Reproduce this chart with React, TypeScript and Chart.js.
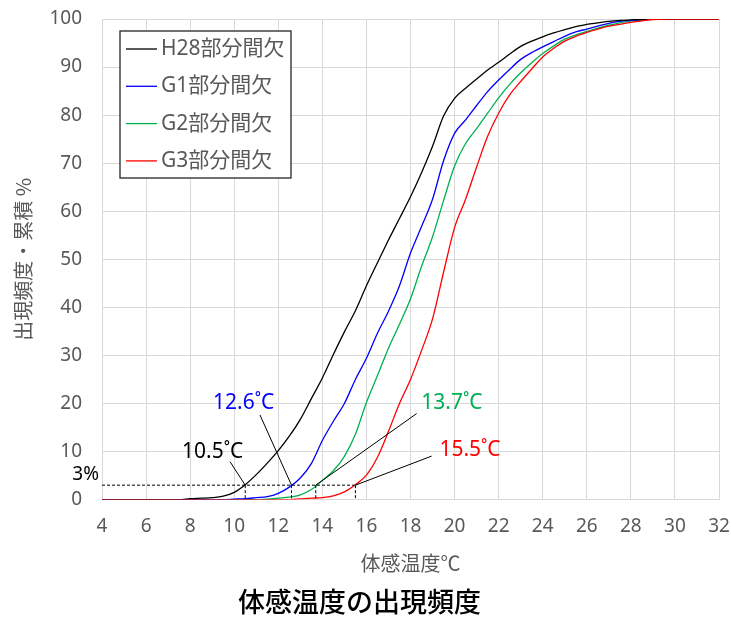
import React, { useEffect, useRef } from 'react';
import { Chart, registerables } from 'chart.js';

Chart.register(...registerables);

// ---- data -------------------------------------------------------------
const temps = [
  4, 4.5, 5, 5.5, 6, 6.5, 7, 7.5, 8, 8.5, 9, 9.5, 10, 10.5, 11, 11.5, 12, 12.5,
  13, 13.5, 14, 14.5, 15, 15.5, 16, 16.5, 17, 17.5, 18, 18.5, 19, 19.5, 20, 20.5,
  21, 21.5, 22, 22.5, 23, 23.5, 24, 24.5, 25, 25.5, 26, 26.5, 27, 27.5, 28, 28.5,
  29, 29.5, 30, 30.5, 31, 31.5, 32,
];

const h28 = [
  0, 0, 0, 0, 0, 0, 0, 0,
  0.2, 0.3, 0.4, 0.7, 1.5, 3.1, 5.2, 7.6, 10.2, 13.2, 16.7, 21, 25.3, 30.2, 34.9, 39.3,
  44.5, 49.3, 54, 58.5, 63, 68, 73.5, 79.8, 83.5, 85.6, 87.5, 89.4, 91, 92.7, 94.3, 95.4,
  96.3, 97.1, 97.8, 98.4, 98.9, 99.2, 99.5, 99.7, 99.8, 99.9,
  100, 100, 100, 100, 100, 100, 100,
];

const g1 = [
  0, 0, 0, 0, 0, 0, 0, 0, 0, 0, 0, 0,
  0.1, 0.2, 0.4, 0.6, 1.3, 2.6, 4.5, 7.5, 12.3, 16.3, 20.0, 25.0, 29.4, 34.6, 39.2, 44.5,
  51.3, 56.8, 62.5, 70.5, 76.2, 79, 82, 84.9, 87.3, 89.5, 91.6, 93, 94.2, 95.3, 96.4, 97.3,
  97.9, 98.5, 99.1, 99.5, 99.7, 99.9,
  100, 100, 100, 100, 100, 100, 100,
];

const g2 = [
  0, 0, 0, 0, 0, 0, 0, 0, 0, 0, 0, 0, 0, 0, 0,
  0.1, 0.3, 0.5, 1.0, 2.1, 4.0, 6.0, 9.0, 13.6, 20.2, 25.8, 31.5, 36.5, 41.8, 48.5, 54.7,
  62.2, 69.4, 74.1, 77.2, 80.4, 83.6, 86.4, 88.8, 90.9, 92.8, 94.4, 95.8, 96.7, 97.4, 98.1,
  98.7, 99.2, 99.6, 99.8,
  100, 100, 100, 100, 100, 100, 100,
];

const g3 = [
  0, 0, 0, 0, 0, 0, 0, 0, 0, 0, 0, 0, 0, 0, 0, 0, 0, 0,
  0.15, 0.3, 0.4, 0.8, 1.6, 3.1, 5.1, 8.8, 14.2, 20.0, 25.0, 31.0, 37.6, 47.3, 56.6, 62.5,
  69.2, 75.6, 80.4, 84.2, 87.0, 89.6, 92.1, 93.9, 95.4, 96.4, 97.2, 97.9, 98.5, 98.9, 99.3,
  99.6, 99.9,
  100, 100, 100, 100, 100, 100,
];

const seriesNames = ['H28部分間欠', 'G1部分間欠', 'G2部分間欠', 'G3部分間欠'];
const seriesValues = [h28, g1, g2, g3];

const xMin = 4;
const xMax = 32;
const xStep = 2;
const yMin = 0;
const yMax = 100;
const yStep = 10;

const thresholdPct = 3;
const thresholdLabel = '3%';
const thresholdTemps = [10.5, 12.6, 13.7, 15.5];
const thresholdTexts = ['10.5˚C', '12.6˚C', '13.7˚C', '15.5˚C'];

const chartTitle = '体感温度の出現頻度';
const xTitle = '体感温度℃';
const yTitle = '出現頻度・累積 %';

// ---- styles / placement (kept apart from data) -------------------------
const seriesColors = ['#000000', '#0000ff', '#00b050', '#ff0000'];
const labelColors = ['#000000', '#0000ff', '#00b050', '#ff0000'];
// label centres and leader-line ends, in data units
const labelAnchors = [
  { x: 9.02, y: 10.0 },
  { x: 10.43, y: 20.1 },
  { x: 19.88, y: 20.1 },
  { x: 20.7, y: 10.3 },
];
const leaderEnds = [
  { x: 9.81, y: 7.9 },
  { x: 11.17, y: 17.6 },
  { x: 18.28, y: 17.9 },
  { x: 18.96, y: 9.05 },
];

const GRAY = '#595959';
const GRID = '#d9d9d9';
const LATIN = '"Noto Sans", "Noto Sans CJK JP", sans-serif';
const CJK = '"Noto Sans CJK JP", "Noto Sans", sans-serif';

const thresholdPlugin = {
  id: 'thresholdMarks',
  afterDatasetsDraw(chart: any) {
    const { ctx, scales } = chart;
    const xs = scales.x;
    const ys = scales.y;
    const yT = ys.getPixelForValue(thresholdPct);
    const y0 = ys.getPixelForValue(0);
    ctx.save();
    ctx.strokeStyle = '#000000';
    ctx.lineWidth = 1;
    ctx.setLineDash([3, 2]);
    ctx.beginPath();
    ctx.moveTo(xs.getPixelForValue(xMin), yT);
    ctx.lineTo(xs.getPixelForValue(Math.max(...thresholdTemps)), yT);
    thresholdTemps.forEach((t) => {
      const px = xs.getPixelForValue(t);
      ctx.moveTo(px, yT);
      ctx.lineTo(px, y0);
    });
    ctx.stroke();
    ctx.setLineDash([]);

    ctx.beginPath();
    thresholdTemps.forEach((t, i) => {
      ctx.moveTo(xs.getPixelForValue(t), yT);
      ctx.lineTo(xs.getPixelForValue(leaderEnds[i].x), ys.getPixelForValue(leaderEnds[i].y));
    });
    ctx.stroke();

    ctx.font = `21px ${LATIN}`;
    ctx.textAlign = 'center';
    ctx.textBaseline = 'middle';
    thresholdTexts.forEach((txt, i) => {
      ctx.fillStyle = labelColors[i];
      ctx.fillText(txt, xs.getPixelForValue(labelAnchors[i].x), ys.getPixelForValue(labelAnchors[i].y));
    });

    ctx.fillStyle = '#000000';
    ctx.font = `19px ${LATIN}`;
    ctx.textAlign = 'right';
    ctx.fillText(thresholdLabel, chart.chartArea.left - 3, ys.getPixelForValue(5.2));
    ctx.restore();
  },
};

const boxLegendPlugin = {
  id: 'boxLegend',
  afterDraw(chart: any) {
    const { ctx, chartArea } = chart;
    const left = chartArea.left + 18;
    const top = chartArea.top + 12;
    const w = 171;
    const h = 147;
    ctx.save();
    ctx.fillStyle = '#ffffff';
    ctx.fillRect(left, top, w, h);
    ctx.strokeStyle = '#262626';
    ctx.lineWidth = 1.3;
    ctx.strokeRect(left, top, w, h);
    ctx.font = `21px ${LATIN}`;
    ctx.textBaseline = 'middle';
    ctx.textAlign = 'left';
    seriesNames.forEach((name, i) => {
      const cy = top + 18 + i * 37.3;
      ctx.strokeStyle = seriesColors[i];
      ctx.lineWidth = 1.3;
      ctx.beginPath();
      ctx.moveTo(left + 6, cy);
      ctx.lineTo(left + 37, cy);
      ctx.stroke();
      ctx.fillStyle = GRAY;
      ctx.fillText(name, left + 41, cy);
    });
    ctx.restore();
  },
};

export default function App() {
  const canvasRef = useRef<HTMLCanvasElement | null>(null);

  useEffect(() => {
    if (!canvasRef.current) return;
    const datasets = seriesNames.map((name, i) => ({
      label: name,
      data: temps.map((t, j) => ({ x: t, y: seriesValues[i][j] })),
      borderColor: seriesColors[i],
      backgroundColor: seriesColors[i],
      borderWidth: 1.3,
      pointRadius: 0,
      fill: false,
      cubicInterpolationMode: 'monotone' as const,
      order: i === 3 ? -1 : i,
    }));

    const chart = new Chart(canvasRef.current, {
      type: 'line',
      data: { datasets },
      plugins: [thresholdPlugin, boxLegendPlugin],
      options: {
        responsive: false,
        animation: false,
        devicePixelRatio: 1,
        layout: { padding: { left: 0, right: 12, top: 19, bottom: 0 } },
        plugins: {
          legend: { display: false },
          tooltip: { enabled: false },
          title: {
            display: true,
            position: 'bottom',
            text: chartTitle,
            color: '#000000',
            font: { family: CJK, size: 27, weight: '500' },
            padding: { top: 0, bottom: 0 },
          },
        },
        scales: {
          x: {
            type: 'linear',
            min: xMin,
            max: xMax,
            afterFit: (scale: any) => {
              scale.height = 86;
              scale.paddingLeft = 0;
              scale.paddingRight = 0;
            },
            ticks: {
              stepSize: xStep,
              color: GRAY,
              font: { family: LATIN, size: 19 },
              padding: 16,
              maxRotation: 0,
            },
            grid: { color: GRID, lineWidth: 1, drawTicks: false },
            border: { color: GRID, width: 1 },
            title: {
              display: true,
              text: xTitle,
              color: GRAY,
              font: { family: CJK, size: 20 },
              padding: { top: 0, bottom: 10 },
            },
          },
          y: {
            type: 'linear',
            min: yMin,
            max: yMax,
            afterFit: (scale: any) => {
              scale.width = 102;
              scale.paddingTop = 0;
              scale.paddingBottom = 0;
            },
            ticks: {
              stepSize: yStep,
              color: GRAY,
              font: { family: LATIN, size: 19 },
              padding: 20,
            },
            grid: { color: GRID, lineWidth: 1, drawTicks: false },
            border: { color: GRID, width: 1 },
            title: {
              display: true,
              text: yTitle,
              color: GRAY,
              font: { family: CJK, size: 20 },
              padding: { top: 11, bottom: 0 },
            },
          },
        },
      },
    });
    return () => chart.destroy();
  }, []);

  return (
    <div style={{ position: 'absolute', left: 0, top: 0, width: 731, height: 618, background: '#ffffff' }}>
      <canvas ref={canvasRef} width={731} height={618} />
    </div>
  );
}
